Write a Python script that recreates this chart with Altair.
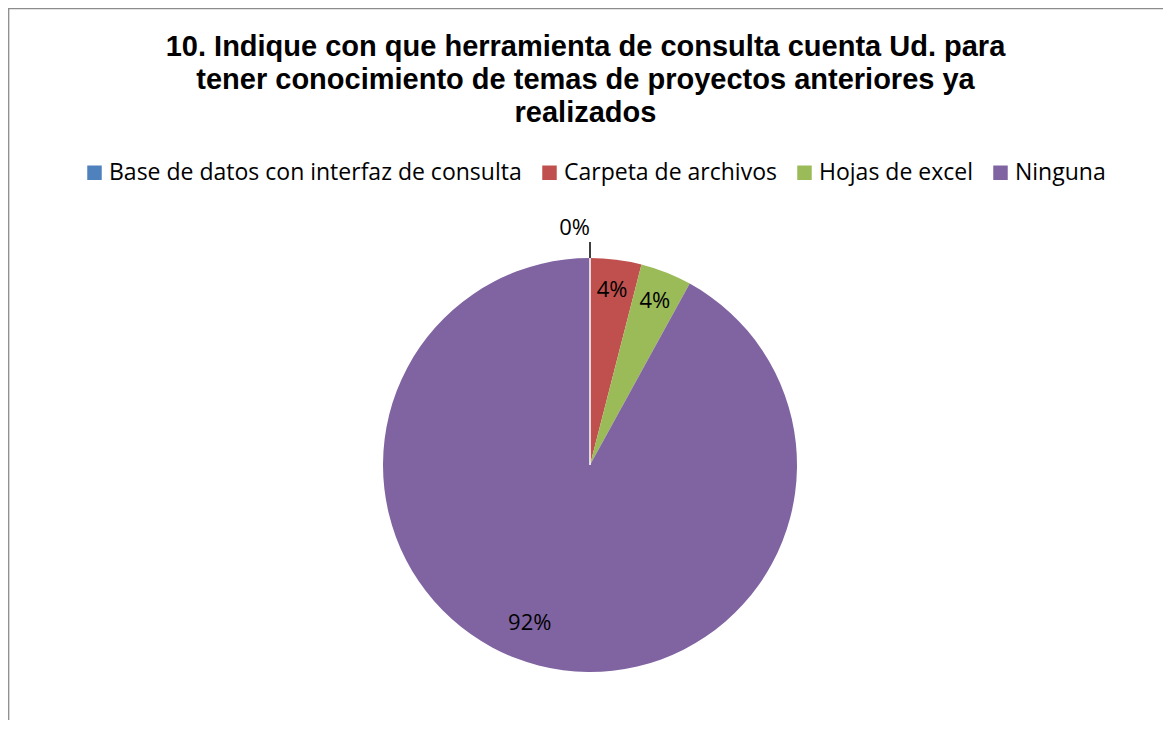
import altair as alt
import pandas as pd

categories = ["Base de datos con interfaz de consulta", "Carpeta de archivos", "Hojas de excel", "Ninguna"]
values = [0, 1, 1, 23]
labels = ["0%", "4%", "4%", "92%"]
colors = ["#4F81BD", "#C0504D", "#9BBB59", "#8064A2"]
title_lines = [
    "10. Indique con que herramienta de consulta cuenta Ud. para",
    "tener conocimiento  de temas de proyectos anteriores ya",
    "realizados",
]

df = pd.DataFrame({"cat": categories, "value": values, "label": labels, "idx": list(range(len(categories)))})
total = sum(values)

W, H = 1155, 712
CX, CY = 582, 457
R = 207

base = (
    alt.Chart(df)
    .transform_stack(stack="value", groupby=[], as_=["v0", "v1"], sort=[alt.SortField("idx")])
    .transform_calculate(mid="(datum.v0 + datum.v1) / 2")
)

theta_scale = alt.Scale(domain=[0, total])
pos = dict(x=alt.value(CX), y=alt.value(CY))
LABEL_FONT = "Open Sans"

pie = base.mark_arc(outerRadius=R).encode(
    theta=alt.Theta("v0:Q", scale=theta_scale),
    theta2="v1:Q",
    color=alt.Color(
        "cat:N",
        scale=alt.Scale(domain=categories, range=colors),
        legend=alt.Legend(
            title=None,
            orient="none",
            legendX=75,
            legendY=153,
            direction="horizontal",
            columns=4,
            symbolType="square",
            symbolSize=210,
            symbolStrokeWidth=0,
            labelFont=LABEL_FONT,
            labelFontSize=23,
            labelColor="#000000",
            labelOffset=3,
            columnPadding=16,
            padding=0,
            labelLimit=600,
        ),
    ),
    **pos,
)

zero_line = base.transform_filter(alt.datum.value == 0).mark_arc(
    outerRadius=R, stroke="white", strokeWidth=1, fillOpacity=0
).encode(theta=alt.Theta("v0:Q", scale=theta_scale), theta2="v1:Q", **pos)

leader = base.transform_filter(alt.datum.value == 0).mark_arc(
    outerRadius=R + 16, innerRadius=R, stroke="black", strokeWidth=1, fillOpacity=0
).encode(theta=alt.Theta("v0:Q", scale=theta_scale), theta2="v1:Q", **pos)

small_labels = base.transform_filter(
    (alt.datum.value > 0) & (alt.datum.cat != "Ninguna")
).mark_text(radius=176, font=LABEL_FONT, fontSize=22, color="black").encode(
    theta=alt.Theta("mid:Q", scale=theta_scale), text="label:N", **pos
)

zero_label = base.transform_filter(alt.datum.value == 0).mark_text(
    radius=237, align="right", font=LABEL_FONT, fontSize=22, color="black"
).encode(theta=alt.Theta("mid:Q", scale=theta_scale), text="label:N", **pos)

big_label = base.transform_filter(alt.datum.cat == "Ninguna").mark_text(
    radius=170, dx=-18, dy=-7, font=LABEL_FONT, fontSize=22, color="black"
).encode(theta=alt.Theta("mid:Q", scale=theta_scale), text="label:N", **pos)

frame_src = alt.Chart(pd.DataFrame({"f": [0]}))
frame_top = frame_src.mark_rule(color="#8c8c8c", strokeWidth=1.3).encode(
    x=alt.value(0), x2=alt.value(W), y=alt.value(0.7)
)
frame_left = frame_src.mark_rule(color="#8c8c8c", strokeWidth=1.3).encode(
    x=alt.value(0.7), y=alt.value(0), y2=alt.value(H)
)

chart = (
    alt.layer(pie, zero_line, leader, small_labels, zero_label, big_label, frame_top, frame_left)
    .properties(
        width=W,
        height=H,
        padding=0,
        autosize=alt.AutoSizeParams(type="none"),
        title=alt.TitleParams(
            text=title_lines,
            anchor="middle",
            frame="group",
            font="Liberation Sans",
            fontSize=29,
            fontWeight="bold",
            lineHeight=33,
            color="#000000",
            offset=-121,
        ),
    )
    .configure_view(stroke=None)
)

chart.save("out.html", embed_options={"renderer": "svg", "actions": False})
